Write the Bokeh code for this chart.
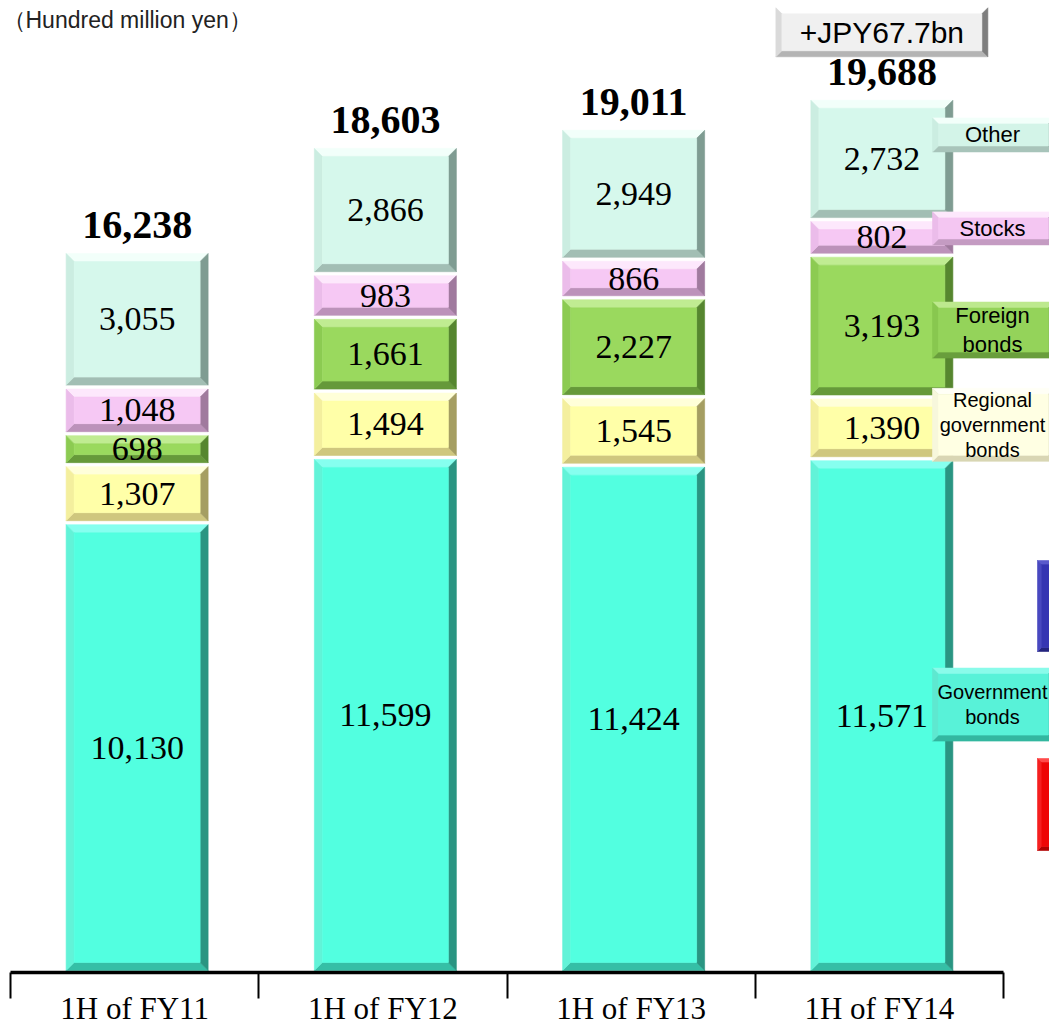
from bokeh.plotting import figure
from bokeh.models import Range1d, FixedTicker, LinearAxis
from bokeh.core.properties import value
from bokeh.embed import file_html
from bokeh.resources import INLINE

# ---- data (hundred million yen) ----
categories = ["1H of FY11", "1H of FY12", "1H of FY13", "1H of FY14"]
series_names = ["Government bonds", "Regional government bonds", "Foreign bonds", "Stocks", "Other"]
government_bonds = [10130, 11599, 11424, 11571]
regional_bonds = [1307, 1494, 1545, 1390]
foreign_bonds = [698, 1661, 2227, 3193]
stocks = [1048, 983, 866, 802]
other = [3055, 2866, 2949, 2732]
legend_texts = ["Government\nbonds", "Regional\ngovernment\nbonds", "Foreign\nbonds", "Stocks", "Other"]
unit_text = "（Hundred million yen）"

series_values = [government_bonds, regional_bonds, foreign_bonds, stocks, other]
totals = [sum(v[i] for v in series_values) for i in range(len(categories))]

# ---- layout ----
W, H = 1049, 1029
AXIS_PX = 972          # screen row of the category axis
X0_PX = 10             # screen column of the left axis end
CAT_PX = 248.25        # pixels per category
Y_TOP = 21890
PPY = AXIS_PX / Y_TOP


def xd(px):
    return (px - X0_PX) / CAT_PX


def yd(py):
    return (AXIS_PX - py) / PPY


def dx(px):
    return px / CAT_PX


def dy(px):
    return px / PPY


# face, top, bottom, left, right
palette = {
    "Government bonds": ("#52FFE0", "#86FFEF", "#35BFA6", "#62F3D8", "#2A9582"),
    "Regional government bonds": ("#FFFFA8", "#FFFFD9", "#CFC77E", "#F4EF9E", "#A59E62"),
    "Foreign bonds": ("#9AD95E", "#C0EC92", "#66993A", "#8CCB52", "#56862F"),
    "Stocks": ("#F6C8F4", "#FDE8FC", "#BC92BA", "#EBBCEA", "#A07A9E"),
    "Other": ("#D6F8EC", "#F2FFFA", "#A2BEB4", "#CBEDE1", "#7F9C92"),
}
legend_faces = {
    "Government bonds": ("#58F2D8", "#8AFBEA", "#33B7A0", "#5EE8D0", "#2A9582"),
    "Regional government bonds": ("#FFFFE3", "#FFFFF6", "#D9D6B4", "#F7F7DC", "#B5B294"),
    "Foreign bonds": ("#94D35A", "#BDE98E", "#699E3C", "#88C74F", "#56882F"),
    "Stocks": ("#F4C6F2", "#FDE8FC", "#C49BC2", "#EBBCEA", "#A680A4"),
    "Other": ("#D3F4E8", "#F2FFFA", "#A8C4BA", "#CBEDE1", "#87A49A"),
}
box_gray = ("#F0F0F0", "#FFFFFF", "#B4B4B4", "#DADADA", "#7E7E7E")
blue_cols = ("#3535B2", "#5A5ACC", "#23237E", "#4848C0", "#1E1E70")
red_cols = ("#EE0505", "#FF4A4A", "#B00000", "#F52020", "#A00000")


def bevel(x0, x1, y0, y1, bx, by, cols):
    """Return polygons (xs, ys, colors) of a bevelled rectangle."""
    face, top, bot, left, right = cols
    by = min(by, (y1 - y0) / 3.0)
    bx = min(bx, (x1 - x0) / 3.0)
    xi0, xi1, yi0, yi1 = x0 + bx, x1 - bx, y0 + by, y1 - by
    polys = [
        ([x0, x1, xi1, xi0], [y1, y1, yi1, yi1], top),
        ([x0, x1, xi1, xi0], [y0, y0, yi0, yi0], bot),
        ([x0, x0, xi0, xi0], [y0, y1, yi1, yi0], left),
        ([x1, x1, xi1, xi1], [y0, y1, yi1, yi0], right),
        ([xi0, xi1, xi1, xi0], [yi0, yi0, yi1, yi1], face),
    ]
    return polys


p = figure(width=W, height=H, output_backend="svg", toolbar_location=None,
           x_range=Range1d(xd(0), xd(W)), y_range=Range1d(0, Y_TOP),
           x_axis_location=None, y_axis_location=None,
           min_border_left=0, min_border_right=0, min_border_top=0,
           min_border_bottom=H - AXIS_PX)
p.outline_line_color = None
p.background_fill_color = "white"
p.border_fill_color = "white"
p.grid.visible = False

xs, ys, cs = [], [], []
lab_x, lab_y, lab_t = [], [], []
bar_centers = []
BAR_HALF = dx(71)
for i in range(len(categories)):
    cx = i + 0.5 + dx(2.5)
    bar_centers.append(cx)
    base = 0
    for name, vals in zip(series_names, series_values):
        v = vals[i]
        y0 = base + dy(2)
        y1 = base + v - dy(2)
        for pxs, pys, c in bevel(cx - BAR_HALF, cx + BAR_HALF, y0, y1, dx(8), dy(8), palette[name]):
            xs.append(pxs)
            ys.append(pys)
            cs.append(c)
        lab_x.append(cx)
        lab_y.append(base + v / 2.0)
        lab_t.append(f"{v:,}")
        base += v

p.patches(xs, ys, fill_color=cs, line_color=cs, line_width=0.6)

p.text(lab_x, lab_y, text=lab_t, text_font=value("Liberation Serif"),
       text_font_size="34px", text_align="center", text_baseline="middle",
       text_color="black")

p.text(bar_centers, totals, text=[f"{t:,}" for t in totals],
       text_font=value("Liberation Serif"), text_font_style="bold",
       text_font_size="40px", text_align="center", text_baseline="middle",
       text_color="black", y_offset=-26)

# change versus previous period (hundred million yen -> billion yen)
last = len(categories) - 1
delta_bn = (totals[last] - totals[last - 1]) / 10.0
box_cy = totals[last] + dy(66)
bxs, bys, bcs = [], [], []
for pxs, pys, c in bevel(bar_centers[last] - dx(106), bar_centers[last] + dx(106),
                         box_cy - dy(24.5), box_cy + dy(24.5), dx(6), dy(6), box_gray):
    bxs.append(pxs)
    bys.append(pys)
    bcs.append(c)

# series name tags beside the last bar
tag_nudge_px = [-11, -3, 4, -9, -24]
tag_half_px = [36.5, 36.5, 28, 16.5, 17]
tag_font = ["20px", "20px", "22px", "22px", "22px"]
tag_x, tag_y, tag_t, tag_f = [], [], [], []
base = 0
for k, (name, vals) in enumerate(zip(series_names, series_values)):
    v = vals[last]
    cy = base + v / 2.0 - dy(tag_nudge_px[k])
    for pxs, pys, c in bevel(xd(932), xd(1054), cy - dy(tag_half_px[k]), cy + dy(tag_half_px[k]),
                             dx(6), dy(6), legend_faces[name]):
        bxs.append(pxs)
        bys.append(pys)
        bcs.append(c)
    tag_x.append(xd(992))
    tag_y.append(cy)
    tag_t.append(legend_texts[k])
    tag_f.append(tag_font[k])
    base += v

# slivers of neighbouring shapes at the right edge
for cols, top_px, bot_px in [(blue_cols, 560, 651), (red_cols, 758, 850)]:
    for pxs, pys, c in bevel(xd(1037), xd(1056), yd(bot_px), yd(top_px), dx(4), dy(4), cols):
        bxs.append(pxs)
        bys.append(pys)
        bcs.append(c)

p.patches(bxs, bys, fill_color=bcs, line_color=bcs, line_width=0.6)

p.text([bar_centers[last]], [box_cy], text=[f"+JPY{delta_bn:.1f}bn"],
       text_font=value("Liberation Sans"), text_font_size="30px",
       text_align="center", text_baseline="middle", text_color="black")

p.text(tag_x, tag_y, text=tag_t, text_font=value("Liberation Sans"),
       text_font_size=tag_f, text_align="center", text_baseline="middle",
       text_color="black", text_line_height=1.15)

p.text([xd(2)], [yd(19)], text=[unit_text], text_font=value("Liberation Sans"),
       text_font_size="23px", text_align="left", text_baseline="middle",
       text_color="#222222")

# category axis with boundary ticks
xaxis = LinearAxis(
    ticker=FixedTicker(ticks=[i + 0.5 for i in range(len(categories))],
                       minor_ticks=list(range(len(categories) + 1))),
    bounds=(0, len(categories)),
    major_label_overrides={i + 0.5: c for i, c in enumerate(categories)},
)
xaxis.axis_line_color = "black"
xaxis.axis_line_width = 3.5
xaxis.major_tick_in = 0
xaxis.major_tick_out = 0
xaxis.major_tick_line_color = None
xaxis.minor_tick_in = 0
xaxis.minor_tick_out = 26
xaxis.minor_tick_line_color = "black"
xaxis.minor_tick_line_width = 2
xaxis.major_label_standoff = -8
xaxis.major_label_text_font = "Liberation Serif"
xaxis.major_label_text_font_size = "31px"
xaxis.major_label_text_color = "black"
p.add_layout(xaxis, "below")

open("out.html", "w").write(file_html(p, INLINE))
